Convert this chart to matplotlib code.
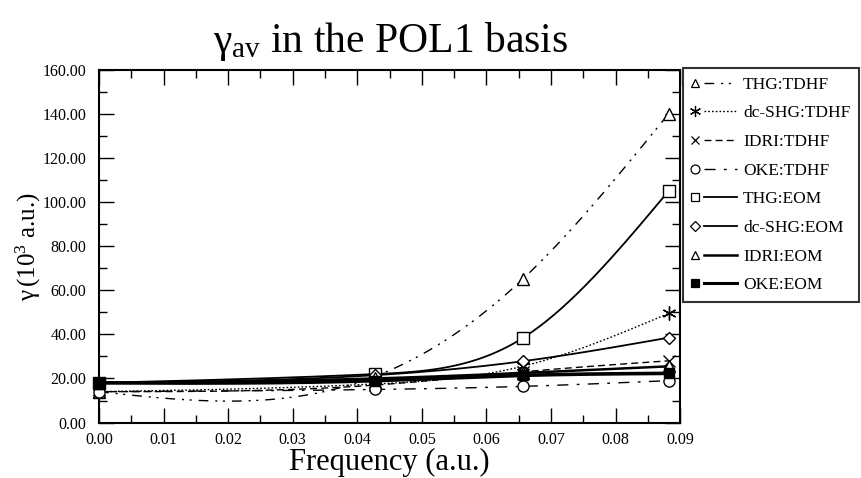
import numpy as np
import matplotlib
matplotlib.use("Agg")
import matplotlib.pyplot as plt
from matplotlib.lines import Line2D
from matplotlib.legend_handler import HandlerBase

plt.rcParams['font.family'] = ['Liberation Serif', 'DejaVu Serif']
plt.rcParams['mathtext.fontset'] = 'custom'
plt.rcParams['mathtext.rm'] = 'Liberation Serif'
plt.rcParams['mathtext.it'] = 'Liberation Serif'
plt.rcParams['mathtext.bf'] = 'Liberation Serif:bold'

freq = [0.0, 0.0428, 0.0656, 0.0882]
series_names = ["THG:TDHF", "dc-SHG:TDHF", "IDRI:TDHF", "OKE:TDHF",
                "THG:EOM", "dc-SHG:EOM", "IDRI:EOM", "OKE:EOM"]
thg_tdhf = [14.0, 21.0, 65.0, 140.0]
dcshg_tdhf = [14.0, 17.5, 25.5, 49.5]
idri_tdhf = [14.0, 17.0, 23.0, 28.0]
oke_tdhf = [14.0, 15.0, 16.4, 19.0]
thg_eom = [18.0, 22.0, 38.3, 105.0]
dcshg_eom = [18.0, 21.5, 27.8, 38.5]
idri_eom = [18.0, 20.0, 22.5, 25.5]
oke_eom = [18.0, 19.0, 21.4, 22.3]
values = [thg_tdhf, dcshg_tdhf, idri_tdhf, oke_tdhf,
          thg_eom, dcshg_eom, idri_eom, oke_eom]


def natural_spline(x, y, xs):
    x = np.asarray(x, float); y = np.asarray(y, float)
    n = len(x)
    h = np.diff(x)
    A = np.zeros((n, n)); b = np.zeros(n)
    A[0, 0] = 1; A[-1, -1] = 1
    for i in range(1, n - 1):
        A[i, i - 1] = h[i - 1]
        A[i, i] = 2 * (h[i - 1] + h[i])
        A[i, i + 1] = h[i]
        b[i] = 6 * ((y[i + 1] - y[i]) / h[i] - (y[i] - y[i - 1]) / h[i - 1])
    M = np.linalg.solve(A, b)
    out = np.empty_like(xs)
    for k, t in enumerate(xs):
        i = min(max(np.searchsorted(x, t) - 1, 0), n - 2)
        a = x[i + 1] - t; c = t - x[i]
        out[k] = (M[i] * a**3 / (6 * h[i]) + M[i + 1] * c**3 / (6 * h[i])
                  + (y[i] / h[i] - M[i] * h[i] / 6) * a
                  + (y[i + 1] / h[i] - M[i + 1] * h[i] / 6) * c)
    return out


styles = [
    dict(ls=(0, (7, 5, 1.5, 4, 1.5, 5)), lw=1.0, marker='^', mfc='white', ms=8),
    dict(ls=(0, (1.2, 1.5)), lw=1.0, marker=(6, 2, 0), mfc='black', ms=10),
    dict(ls=(0, (5, 3)), lw=1.0, marker='x', mfc='black', ms=8),
    dict(ls=(0, (8, 6, 2, 6)), lw=1.0, marker='o', mfc='white', ms=8),
    dict(ls='-', lw=1.3, marker='s', mfc='white', ms=8),
    dict(ls='-', lw=1.3, marker='D', mfc='white', ms=6),
    dict(ls='-', lw=1.8, marker='^', mfc='white', ms=8),
    dict(ls='-', lw=2.6, marker='s', mfc='black', ms=7),
]

fig = plt.figure(figsize=(8.61, 4.78), dpi=100)
ax = fig.add_axes([0.115, 0.116, 0.675, 0.738])

xs = np.linspace(freq[0], freq[-1], 300)
for name, vals, st in zip(series_names, values, styles):
    ax.plot(xs, natural_spline(freq, vals, xs), color='black', ls=st['ls'], lw=st['lw'])
    ax.plot(freq, vals, ls='none', marker=st['marker'], mfc=st['mfc'], mec='black',
            ms=st['ms'], mew=1.0, color='black', clip_on=False, zorder=5)

ax.set_xlim(0, 0.09)
ax.set_ylim(0, 160)
ax.set_xticks(np.arange(0, 0.0901, 0.01))
ax.set_xticks(np.arange(0.005, 0.09, 0.01), minor=True)
ax.set_yticks(np.arange(0, 160.1, 20))
ax.set_yticks(np.arange(10, 160, 20), minor=True)
ax.set_xticklabels([f"{v:.2f}" for v in np.arange(0, 0.0901, 0.01)])
ax.set_yticklabels([f"{v:.2f}" for v in np.arange(0, 160.1, 20)])
ax.tick_params(which='both', direction='in', top=True, right=True, labelsize=11.5, width=1.0)
ax.tick_params(which='major', length=11)
ax.tick_params(which='minor', length=5.5)
ax.tick_params(axis='x', pad=7)
ax.tick_params(axis='y', pad=9)
for sp in ax.spines.values():
    sp.set_linewidth(1.5)

ax.set_xlabel("Frequency (a.u.)", fontsize=22, labelpad=0)
ax.set_ylabel(r"$\gamma\,(10^3$ a.u.)", fontsize=18, labelpad=0)
fig.text(0.453, 0.891, r"$\gamma_{\mathrm{av}}$ in the POL1 basis", fontsize=30,
         ha='center', va='baseline')


class MarkerLineHandler(HandlerBase):
    def create_artists(self, legend, orig_handle, xdescent, ydescent, width, height, fontsize, trans):
        st = orig_handle
        y = height / 2 - ydescent
        m = Line2D([-xdescent + 0.06 * width], [y], ls='none', marker=st['marker'],
                   mfc=st['mfc'], mec='black', ms=st['ms'] * 0.8, mew=0.9, transform=trans)
        ln = Line2D([-xdescent + 0.27 * width, -xdescent + width], [y, y], color='black',
                    ls=st['ls'], lw=min(st['lw'], 2.2), transform=trans)
        return [m, ln]


leg = fig.legend(styles, series_names, handler_map={dict: MarkerLineHandler()},
                 loc='upper left', bbox_to_anchor=(0.7935, 0.858), bbox_transform=fig.transFigure,
                 fontsize=12.5, handlelength=2.6, handletextpad=0.35, labelspacing=0.72,
                 borderpad=0.5, frameon=True, fancybox=False, edgecolor='black',
                 borderaxespad=0)
leg.get_frame().set_linewidth(1.5)

fig.savefig("out.png", dpi=100)
